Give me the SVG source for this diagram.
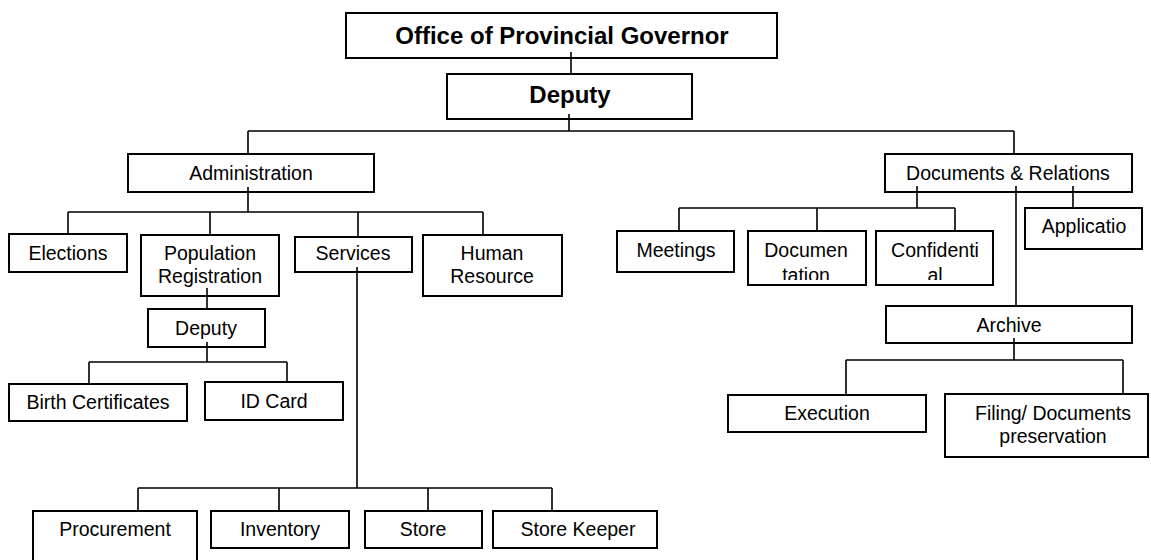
<svg xmlns="http://www.w3.org/2000/svg" width="1151" height="560" viewBox="0 0 1151 560">
<style>
.b{fill:#fff;stroke:#000;stroke-width:2}
.t{font-family:"Liberation Sans",Arial,sans-serif;font-size:19.5px;text-anchor:middle;fill:#000}
.h{font-family:"Liberation Sans",Arial,sans-serif;font-size:24px;font-weight:bold;text-anchor:middle;fill:#000}
.c{fill:none;stroke:#000;stroke-width:1.6}
</style>
<defs>
<clipPath id="cDoc"><rect x="749" y="232" width="116" height="48"/></clipPath>
<clipPath id="cConf"><rect x="877" y="232" width="115" height="48"/></clipPath>
</defs>
<rect width="1151" height="560" fill="#fff"/>
<g id="governor"><rect class="b" x="346" y="13" width="431" height="45"/><text class="h" x="562" y="44">Office of Provincial Governor</text></g>
<g id="deputy"><rect class="b" x="447" y="74" width="245" height="45"/><text class="h" x="570" y="103">Deputy</text></g>
<g id="administration"><rect class="b" x="128" y="154" width="246" height="38"/><text class="t" x="251" y="180">Administration</text></g>
<g id="documents-relations"><rect class="b" x="885" y="154" width="247" height="38"/><text class="t" x="1008" y="180">Documents &amp; Relations</text></g>
<g id="elections"><rect class="b" x="9" y="234" width="118" height="38"/><text class="t" x="68" y="260">Elections</text></g>
<g id="population-registration"><rect class="b" x="141" y="235" width="138" height="61"/><text class="t" x="210" y="260">Population</text><text class="t" x="210" y="283">Registration</text></g>
<g id="services"><rect class="b" x="295" y="237" width="117" height="35"/><text class="t" x="353" y="260">Services</text></g>
<g id="human-resource"><rect class="b" x="423" y="235" width="139" height="61"/><text class="t" x="492" y="260">Human</text><text class="t" x="492" y="283">Resource</text></g>
<g id="meetings"><rect class="b" x="617" y="231" width="117" height="41"/><text class="t" x="676" y="257">Meetings</text></g>
<g id="documentation"><rect class="b" x="748" y="231" width="118" height="54"/><g clip-path="url(#cDoc)"><text class="t" x="806" y="257">Documen</text><text class="t" x="806" y="282">tation</text></g></g>
<g id="confidential"><rect class="b" x="876" y="231" width="117" height="54"/><g clip-path="url(#cConf)"><text class="t" x="935" y="257">Confidenti</text><text class="t" x="935" y="282">al</text></g></g>
<g id="applicatio"><rect class="b" x="1025" y="208" width="117" height="41"/><text class="t" x="1084" y="233">Applicatio</text></g>
<g id="deputy-sub"><rect class="b" x="148" y="309" width="117" height="38"/><text class="t" x="206" y="335">Deputy</text></g>
<g id="archive"><rect class="b" x="886" y="306" width="246" height="37"/><text class="t" x="1009" y="332">Archive</text></g>
<g id="birth-certificates"><rect class="b" x="9" y="384" width="178" height="37"/><text class="t" x="98" y="409">Birth Certificates</text></g>
<g id="id-card"><rect class="b" x="205" y="382" width="138" height="38"/><text class="t" x="274" y="408">ID Card</text></g>
<g id="execution"><rect class="b" x="728" y="395" width="198" height="37"/><text class="t" x="827" y="420">Execution</text></g>
<g id="filing"><rect class="b" x="945" y="394" width="203" height="63"/><text class="t" x="1053" y="420">Filing/ Documents</text><text class="t" x="1053" y="443">preservation</text></g>
<g id="procurement"><rect class="b" x="33" y="511" width="164" height="70"/><text class="t" x="115" y="536">Procurement</text></g>
<g id="inventory"><rect class="b" x="211" y="511" width="138" height="37"/><text class="t" x="280" y="536">Inventory</text></g>
<g id="store"><rect class="b" x="365" y="511" width="117" height="37"/><text class="t" x="423" y="536">Store</text></g>
<g id="store-keeper"><rect class="b" x="493" y="511" width="164" height="37"/><text class="t" x="578" y="536">Store Keeper</text></g>
<g id="connectors">
<path class="c" d="M571 52V74"/>
<path class="c" d="M569 114V131M248 131H1014M248 131V154M1014 131V154"/>
<path class="c" d="M248 187V212M68 212H483M68 212V234M210 212V235M358 212V237M483 212V235"/>
<path class="c" d="M207 288V309"/>
<path class="c" d="M207 342V362M89 362H287M89 362V384M287 362V382"/>
<path class="c" d="M357 267V488M138 488H552M138 488V511M279 488V511M428 488V511M552 488V511"/>
<path class="c" d="M917 186V208M679 208H955M679 208V231M817 208V231M955 208V231"/>
<path class="c" d="M1016 186V306"/>
<path class="c" d="M1073 186V208"/>
<path class="c" d="M1014 338V360M846 360H1123M846 360V395M1123 360V394"/>
</g>
</svg>
